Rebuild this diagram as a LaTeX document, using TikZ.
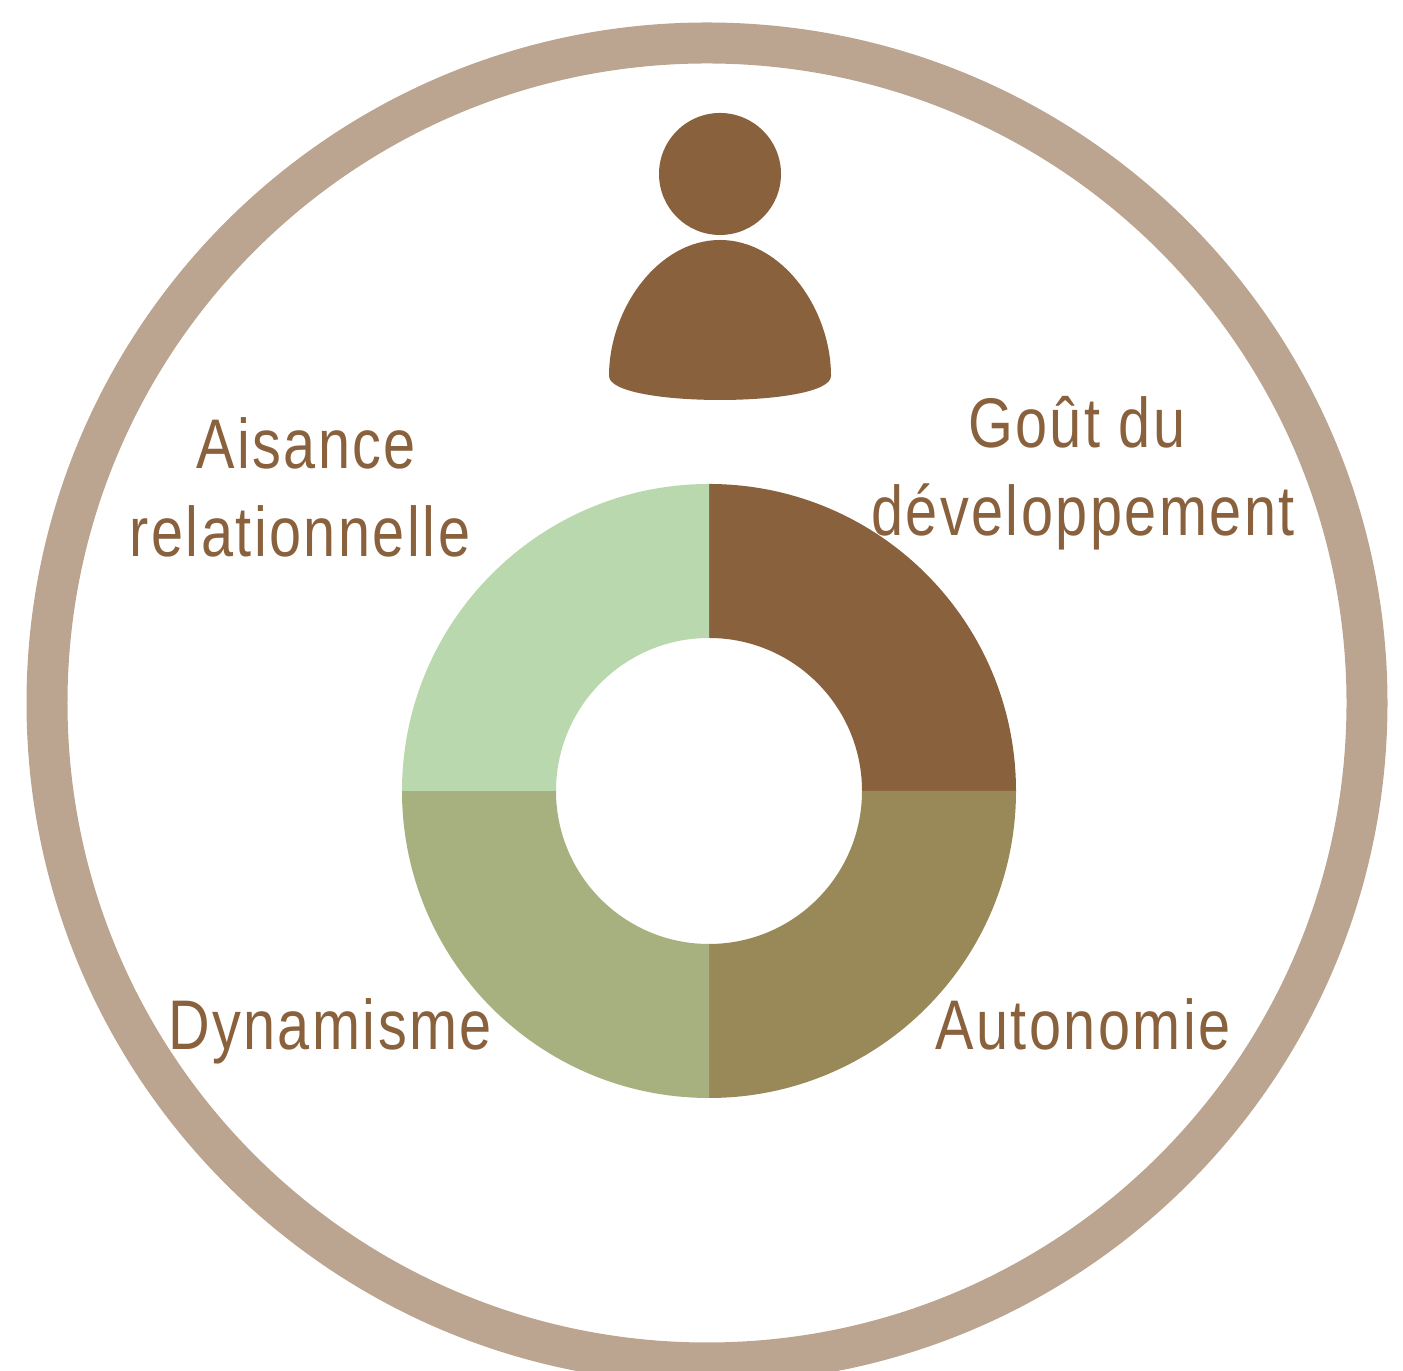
\documentclass[tikz,border=0pt]{standalone}
\usepackage{fontspec}
\setmainfont[FakeStretch=0.82,LetterSpace=3.5]{Liberation Sans}
\definecolor{ringtan}{HTML}{BBA590}
\definecolor{darkbrown}{HTML}{89613D}
\definecolor{olive}{HTML}{998958}
\definecolor{sage}{HTML}{A7B17F}
\definecolor{palegreen}{HTML}{B9D8AE}
\tikzset{
  label text/.style={text=darkbrown, font=\fontsize{40}{50}\selectfont, align=center, inner sep=0pt}
}
\begin{document}
\begin{tikzpicture}[x=0.02cm, y=0.02cm]
  \useasboundingbox (0,0) rectangle (1403,1371);
  \clip (0,0) rectangle (1403,1371);
  % outer ring
  \draw[ringtan, line width=0.82cm] (707,668) circle (660);
  % person
  \fill[darkbrown] (720,1197) circle (61);
  \fill[darkbrown] (609,995) .. controls (609,1062) and (658,1131) .. (720,1131)
    .. controls (782,1131) and (831,1062) .. (831,995)
    .. controls (831,963) and (609,963) .. (609,995) -- cycle;
  % donut
  \fill[darkbrown] (709,887) arc (90:0:307) -- (862,580) arc (0:90:153) -- cycle;
  \fill[olive] (1016,580) arc (0:-90:307) -- (709,427) arc (-90:0:153) -- cycle;
  \fill[sage] (709,273) arc (-90:-180:307) -- (556,580) arc (180:270:153) -- cycle;
  \fill[palegreen] (402,580) arc (180:90:307) -- (709,733) arc (90:180:153) -- cycle;
  % labels
  \node[label text] (aisance) at (300,884) {\hspace*{7pt}Aisance\\relationnelle};
  \node[label text] (gout) at (1083,898) {Goût du\hspace*{7pt}\\développement};
  \node[label text, anchor=base] (dynamisme) at (330,321) {Dynamisme};
  \node[label text, anchor=base] (autonomie) at (1083,321) {Autonomie};
\end{tikzpicture}
\end{document}
